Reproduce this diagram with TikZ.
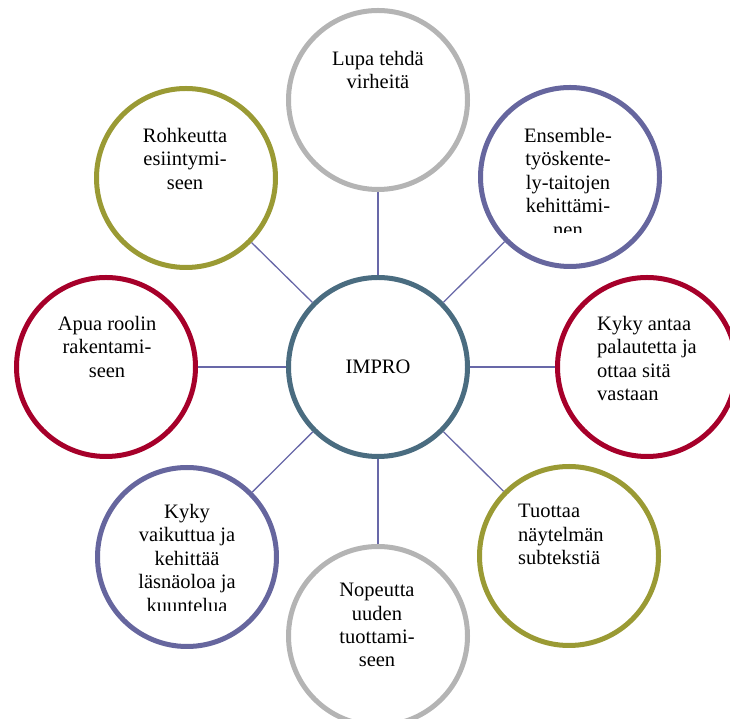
\documentclass[tikz,border=0pt]{standalone}
\usepackage{fontspec}
\setmainfont{Liberation Serif}
\usepackage{tikz}
\usetikzlibrary{positioning}

\definecolor{ringhub}{RGB}{74,108,128}
\definecolor{ringgrey}{RGB}{180,180,180}
\definecolor{ringviolet}{RGB}{102,102,158}
\definecolor{ringred}{RGB}{166,0,42}
\definecolor{ringolive}{RGB}{154,154,52}
\definecolor{linkcol}{RGB}{104,104,168}

\begin{document}
\begin{tikzpicture}[x=1pt, y=1pt,
  circ/.style={circle, draw, line width=5pt, fill=white,
               minimum size=179pt, inner sep=0pt},
  link/.style={draw=linkcol, line width=1.3pt},
  lbl/.style={font=\fontsize{20.5}{23.4}\selectfont, inner sep=0pt,
              align=center, anchor=north},
  lblleft/.style={lbl, align=left, anchor=north west}
]
  \useasboundingbox (0,0) rectangle (730,719);

  % Hub and the ring of eight circles
  \node[circ, draw=ringhub, font=\fontsize{20.5}{23.4}\selectfont] (impro) at (378,352) {IMPRO};
  \node[circ, draw=ringgrey] (lupa) at (378,619) {};
  \node[circ, draw=ringviolet] (ens) at (570,542) {};
  \node[circ, draw=ringred] (anta) at (647,352) {};
  \node[circ, draw=ringolive] (tuot) at (569,163) {};
  \node[circ, draw=ringgrey] (nop) at (378,83) {};
  \node[circ, draw=ringviolet] (vaik) at (187,162) {};
  \node[circ, draw=ringred] (apua) at (106,352) {};
  \node[circ, draw=ringolive] (rohk) at (186,541) {};

  % Spokes from the hub
  \draw[link] (impro) -- (lupa);
  \draw[link] (impro) -- (ens);
  \draw[link] (impro) -- (anta);
  \draw[link] (impro) -- (tuot);
  \draw[link] (impro) -- (nop);
  \draw[link] (impro) -- (vaik);
  \draw[link] (impro) -- (apua);
  \draw[link] (impro) -- (rohk);

  % Texts, set near the top of each circle
  \node[lbl] (lupa-t) at (378,668) {Lupa tehdä\\virheitä};
  \node[lbl] (rohk-t) at (185,591) {Rohkeutta\\esiintymi-\\seen};
  \begin{scope}
    \clip (470,486) rectangle (670,620);
    \node[lbl] (ens-t) at (568,591) {Ensemble-\\työskente-\\ly-taitojen\\kehittämi-\\nen};
  \end{scope}
  \node[lblleft] (anta-t) at (597,403) {Kyky antaa\\palautetta ja\\ottaa sitä\\vastaan};
  \node[lblleft] (tuot-t) at (518,215) {Tuottaa\\näytelmän\\subtekstiä};
  \node[lbl] (nop-t) at (377,136) {Nopeutta\\uuden\\tuottami-\\seen};
  \begin{scope}
    \clip (90,108) rectangle (290,240);
    \node[lbl] (vaik-t) at (187,215) {Kyky\\vaikuttua ja\\kehittää\\läsnäoloa ja\\kuuntelua};
  \end{scope}
  \node[lbl] (apua-t) at (107,403) {Apua roolin\\rakentami-\\seen};
\end{tikzpicture}
\end{document}
